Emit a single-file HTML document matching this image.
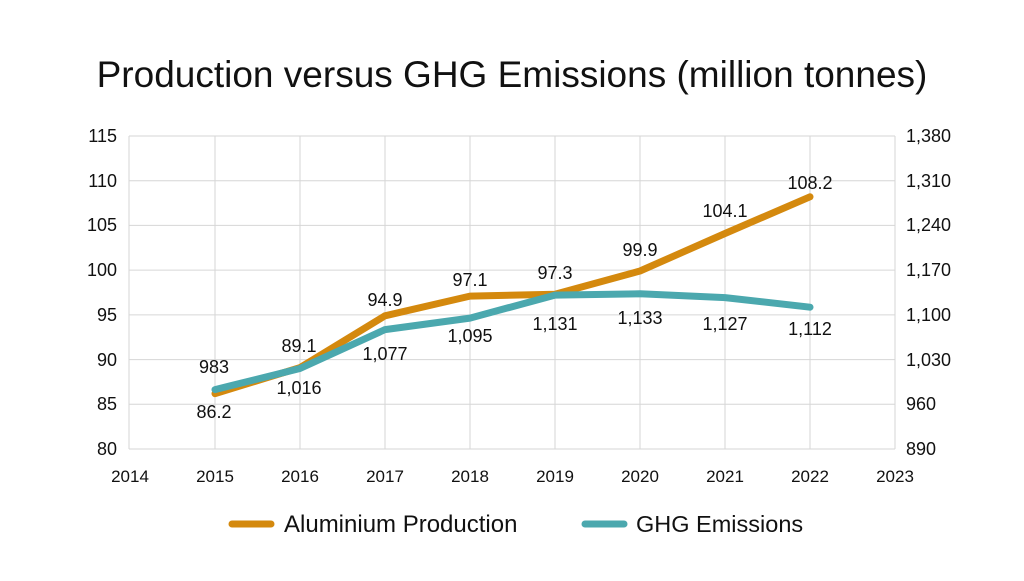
<!DOCTYPE html><html><head><style>body{margin:0;background:#fff}</style></head><body>
<svg width="1024" height="576" xmlns="http://www.w3.org/2000/svg" font-family="Liberation Sans, sans-serif">
<rect width="1024" height="576" fill="#fff"/>
<text x="512" y="87" font-size="37" text-anchor="middle" fill="#111">Production versus GHG Emissions (million tonnes)</text>
<g stroke="#d6d6d6" stroke-width="1">
<line x1="129" x2="895" y1="136" y2="136"/><line x1="129" x2="895" y1="180.7" y2="180.7"/><line x1="129" x2="895" y1="225.4" y2="225.4"/><line x1="129" x2="895" y1="270.1" y2="270.1"/><line x1="129" x2="895" y1="314.9" y2="314.9"/><line x1="129" x2="895" y1="359.6" y2="359.6"/><line x1="129" x2="895" y1="404.3" y2="404.3"/><line x1="129" x2="895" y1="449" y2="449"/>
<line x1="129" x2="129" y1="136" y2="449"/><line x1="215" x2="215" y1="136" y2="449"/><line x1="300" x2="300" y1="136" y2="449"/><line x1="385" x2="385" y1="136" y2="449"/><line x1="470" x2="470" y1="136" y2="449"/><line x1="555" x2="555" y1="136" y2="449"/><line x1="640" x2="640" y1="136" y2="449"/><line x1="725" x2="725" y1="136" y2="449"/><line x1="810" x2="810" y1="136" y2="449"/><line x1="895" x2="895" y1="136" y2="449"/>
</g>
<g font-size="18" fill="#111" text-anchor="end">
<text x="117" y="142">115</text><text x="117" y="187">110</text><text x="117" y="231">105</text><text x="117" y="276">100</text><text x="117" y="321">95</text><text x="117" y="366">90</text><text x="117" y="410">85</text><text x="117" y="455">80</text>
</g>
<g font-size="18" fill="#111">
<text x="906" y="142">1,380</text><text x="906" y="187">1,310</text><text x="906" y="231">1,240</text><text x="906" y="276">1,170</text><text x="906" y="321">1,100</text><text x="906" y="366">1,030</text><text x="906" y="410">960</text><text x="906" y="455">890</text>
</g>
<g font-size="17" fill="#111" text-anchor="middle">
<text x="130" y="482">2014</text><text x="215" y="482">2015</text><text x="300" y="482">2016</text><text x="385" y="482">2017</text><text x="470" y="482">2018</text><text x="555" y="482">2019</text><text x="640" y="482">2020</text><text x="725" y="482">2021</text><text x="810" y="482">2022</text><text x="895" y="482">2023</text>
</g>
<polyline fill="none" stroke="#D4890E" stroke-width="7" stroke-linecap="round" stroke-linejoin="round" points="215,393.6 300,367.6 385,315.8 470,296.1 555,294.3 640,271 725,233.5 810,196.8"/>
<polyline fill="none" stroke="#4BA8AE" stroke-width="7" stroke-linecap="round" stroke-linejoin="round" points="215,389.6 300,368.5 385,329.6 470,318.1 555,295.1 640,293.8 725,297.6 810,307.2"/>
<g font-size="18" fill="#111" text-anchor="middle">
<text x="214" y="418">86.2</text><text x="214" y="373">983</text>
<text x="299" y="352">89.1</text><text x="299" y="394">1,016</text>
<text x="385" y="306">94.9</text><text x="385" y="360">1,077</text>
<text x="470" y="286">97.1</text><text x="470" y="342">1,095</text>
<text x="555" y="279">97.3</text><text x="555" y="330">1,131</text>
<text x="640" y="256">99.9</text><text x="640" y="324">1,133</text>
<text x="725" y="217">104.1</text><text x="725" y="330">1,127</text>
<text x="810" y="189">108.2</text><text x="810" y="335">1,112</text>
</g>
<line x1="232" x2="271" y1="524" y2="524" stroke="#D4890E" stroke-width="7" stroke-linecap="round"/>
<text x="284" y="532" font-size="24" fill="#111">Aluminium Production</text>
<line x1="585" x2="624" y1="524" y2="524" stroke="#4BA8AE" stroke-width="7" stroke-linecap="round"/>
<text x="636" y="532" font-size="23.5" fill="#111">GHG Emissions</text>
</svg>
</body></html>
